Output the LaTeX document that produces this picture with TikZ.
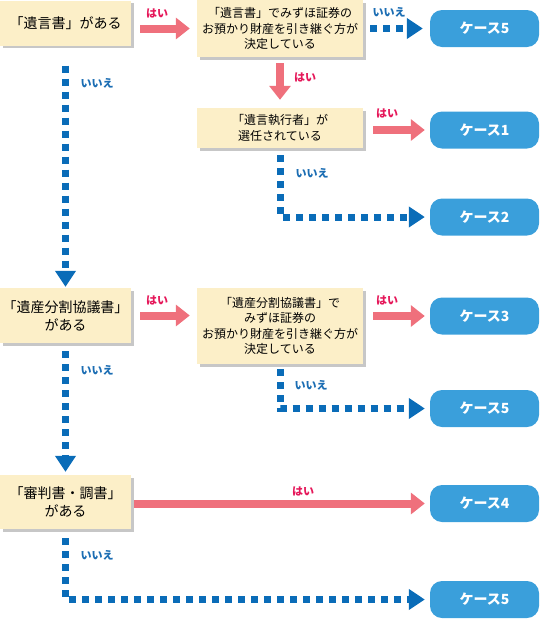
\documentclass[tikz,border=0pt]{standalone}
\usepackage{fontspec}
\setmainfont{Noto Sans CJK JP}
\usetikzlibrary{arrows.meta,shadows}
\definecolor{boxbg}{HTML}{FCEFC8}
\definecolor{caseblue}{HTML}{3A9FDB}
\definecolor{yesred}{HTML}{EF707C}
\definecolor{yestxt}{HTML}{E5185A}
\definecolor{noblue}{HTML}{0A6CB8}
\definecolor{notxt}{HTML}{1B6DB3}
\begin{document}
\begin{tikzpicture}[x=1pt,y=-1pt,
    qbox/.style={fill=boxbg, align=center, inner sep=0pt, drop shadow={shadow xshift=2.5pt, shadow yshift=-2.5pt, fill=black!22, opacity=1}},
    casebox/.style={fill=caseblue, rounded corners=12pt, minimum width=109pt, minimum height=37pt, inner sep=0pt, text=white, font=\bfseries\fontsize{14}{16}\selectfont},
    yes/.style={draw=yesred, line width=8pt, -{Triangle[length=14pt,width=21pt]}},
    no/.style={draw=noblue, line width=7pt, dash pattern=on 7pt off 6pt, -{Triangle[length=16pt,width=20pt]}},
    yeslbl/.style={text=yestxt, inner sep=0pt, font=\bfseries\fontsize{11}{12}\selectfont},
    nolbl/.style={text=notxt, inner sep=0pt, font=\bfseries\fontsize{11}{12}\selectfont}]
  \useasboundingbox (0,0) rectangle (540,619);

  % questions
  \node[qbox, minimum width=131pt, minimum height=45pt, font=\fontsize{14}{18}\selectfont] (q0) at (65.5,23) {「遺言書」がある};
  \node[qbox, minimum width=166pt, minimum height=57pt, font=\fontsize{12}{15.5}\selectfont] (q1) at (280,28.5) {「遺言書」でみずほ証券の\\お預かり財産を引き継ぐ方が\\決定している};
  \node[qbox, minimum width=166pt, minimum height=40pt, font=\fontsize{12}{15.5}\selectfont] (q2) at (280,128) {「遺言執行者」が\\選任されている};
  \node[qbox, minimum width=131pt, minimum height=55pt, font=\fontsize{14}{18}\selectfont] (q3) at (65.5,315.5) {「遺産分割協議書」\\がある};
  \node[qbox, minimum width=166pt, minimum height=76pt, font=\fontsize{12}{15.5}\selectfont] (q4) at (280,326) {「遺産分割協議書」で\\みずほ証券の\\お預かり財産を引き継ぐ方が\\決定している};
  \node[qbox, minimum width=131pt, minimum height=54pt, font=\fontsize{14}{18}\selectfont] (q5) at (65.5,502) {「審判書・調書」\\がある};

  % cases
  \node[casebox] (c5a) at (484.5,28.5) {ケース5};
  \node[casebox] (c1) at (484.5,130) {ケース1};
  \node[casebox] (c2) at (484.5,217) {ケース2};
  \node[casebox] (c3) at (484.5,316) {ケース3};
  \node[casebox] (c5b) at (484.5,408.5) {ケース5};
  \node[casebox] (c4) at (484.5,503.5) {ケース4};
  \node[casebox] (c5c) at (484.5,599.5) {ケース5};

  % yes
  \draw[yes, shorten <=9pt, shorten >=7pt] (q0.east |- q1.west) -- (q1.west);
  \draw[yes, shorten <=6pt, shorten >=8pt] (q1) -- (q2);
  \draw[yes, shorten <=10pt, shorten >=5pt] (q2.east |- c1) -- (c1.west);
  \draw[yes, shorten <=9pt, shorten >=7pt] (q3.east) -- (q3 -| q4.west);
  \draw[yes, shorten <=10pt, shorten >=5pt] (q4.east |- c3) -- (c3.west);
  \draw[yes, shorten <=3pt, shorten >=5pt] (q5.east |- c4) -- (c4.west);

  % no
  \draw[no, shorten <=7pt, shorten >=7pt] (q1.east) -- (c5a.west);
  \draw[no, shorten <=20pt, shorten >=1pt] (q0.south) -- (q3.north);
  \draw[no, shorten <=7pt, shorten >=5pt] (q2.south) |- (c2.west);
  \draw[no, shorten <=8pt, shorten >=3pt] (q3.south) -- (q5.north);
  \draw[no, shorten <=5pt, shorten >=5pt] (q4.south) |- (c5b.west);
  \draw[no, shorten <=9pt, shorten >=5pt] (q5.south) |- (c5c.west);

  % labels
  \node[yeslbl] (y0) at (157,13) {はい};
  \node[yeslbl] (y1) at (305,77) {はい};
  \node[yeslbl] (y2) at (387,113) {はい};
  \node[yeslbl] (y3) at (157,300) {はい};
  \node[yeslbl] (y4) at (387,300) {はい};
  \node[yeslbl] (y5) at (303,491) {はい};
  \node[nolbl] (n0) at (389,12) {いいえ};
  \node[nolbl] (n1) at (97,83) {いいえ};
  \node[nolbl] (n2) at (312,173) {いいえ};
  \node[nolbl] (n3) at (97,370) {いいえ};
  \node[nolbl] (n4) at (311,385) {いいえ};
  \node[nolbl] (n5) at (97,555) {いいえ};
\end{tikzpicture}
\end{document}
